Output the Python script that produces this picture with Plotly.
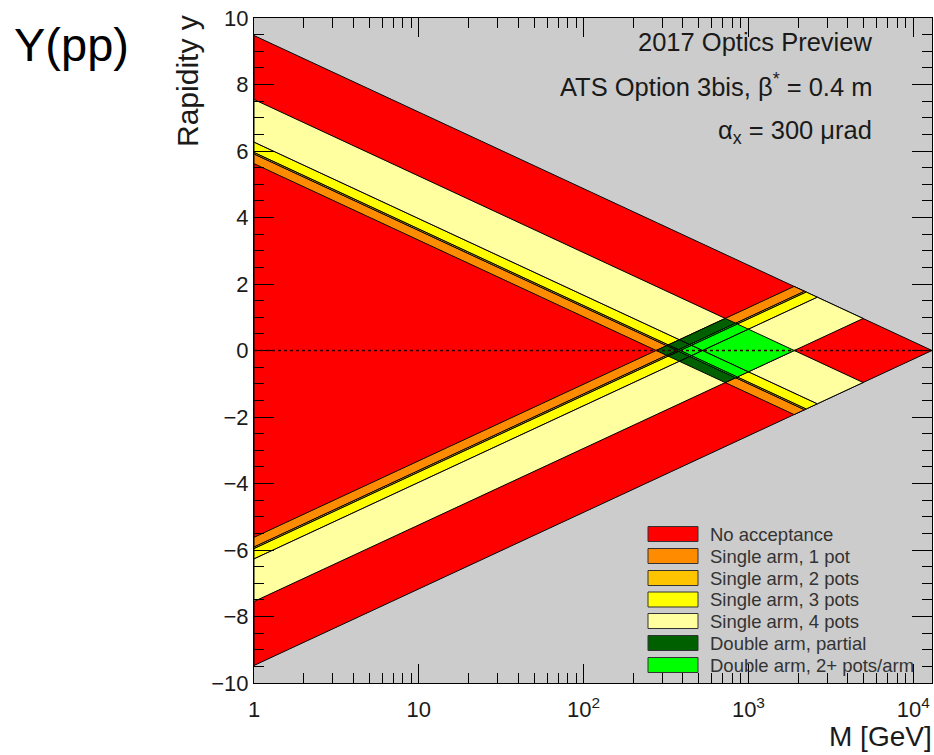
import math
import plotly.graph_objects as go

# Centre-of-mass energy (GeV)
SQRT_S = 13000.0

# Fractional momentum loss xi: edges of the single-arm acceptance bands
# (same for both arms) and the number of pots covering each band
XI_EDGES = [0.0212, 0.0284, 0.0298, 0.0406, 0.146]
POTS = [1, 2, 3, 4]

# Legend categories and their fill colours
CAT_NAMES = [
    "No acceptance",
    "Single arm, 1 pot",
    "Single arm, 2 pots",
    "Single arm, 3 pots",
    "Single arm, 4 pots",
    "Double arm, partial",
    "Double arm, 2+ pots/arm",
]
CAT_COLORS = ["#ff0000", "#ff8c00", "#ffc400", "#ffff00", "#ffffa0", "#006000", "#00ff00"]
BG_GRAY = "#cccccc"

# Axis tick labels
X_TICKVALS = [1, 10, 100, 1000, 10000]
X_TICKTEXT = ["1", "10", "10<sup>2</sup>", "10<sup>3</sup>", "10<sup>4</sup>"]

INFO_LINES = [
    "2017 Optics Preview",
    "ATS Option 3bis, β<sup>*</sup> = 0.4 m",
    "α<sub>x</sub> = 300 μrad",
]

FONT = "Liberation Sans, Arial, sans-serif"
TXT = "#1a1a1a"

# plot-area geometry in pixels
W, H = 934, 755
PL, PT, PW, PH = 254, 18, 678, 665


def fx(px):
    return (px - PL) / PW


def fy(py):
    return (PT + PH - py) / PH


def poly(xs, ys, color):
    return go.Scatter(
        x=xs + xs[:1], y=ys + ys[:1], mode="lines", fill="toself",
        fillcolor=color, line=dict(color="black", width=1),
        hoverinfo="skip", showlegend=False,
    )


fig = go.Figure()

# kinematic limit: |y| <= ln(sqrt(s)/M)
ymax = math.log(SQRT_S)
fig.add_trace(poly([1, SQRT_S, 1], [ymax, 0, -ymax], CAT_COLORS[0]))

bands = list(zip(XI_EDGES[:-1], XI_EDGES[1:], POTS))

# single-arm strips: xi fixed in [lo, hi], other proton anywhere up to xi = 1
for sign in (1, -1):
    for lo, hi, n in bands:
        xs = [1, 1, SQRT_S * math.sqrt(hi), SQRT_S * math.sqrt(lo)]
        ys = [math.log(SQRT_S * lo), math.log(SQRT_S * hi),
              0.5 * math.log(hi), 0.5 * math.log(lo)]
        fig.add_trace(poly(xs, [sign * v for v in ys], CAT_COLORS[n]))

# double-arm regions: both protons inside the acceptance
for lo1, hi1, n1 in bands:
    for lo2, hi2, n2 in bands:
        corners = [(lo1, lo2), (hi1, lo2), (hi1, hi2), (lo1, hi2)]
        xs = [SQRT_S * math.sqrt(a * b) for a, b in corners]
        ys = [0.5 * math.log(a / b) for a, b in corners]
        color = CAT_COLORS[6] if min(n1, n2) >= 2 else CAT_COLORS[5]
        fig.add_trace(poly(xs, ys, color))

shapes = []
# y = 0 reference line
shapes.append(dict(type="line", xref="paper", yref="y", x0=0, x1=1, y0=0, y1=0,
                   line=dict(color="#300000", width=1.5, dash="dot"), layer="above"))

# legend box
row_y = [534, 556, 578, 599.5, 621, 643, 665]
annotations = []
for name, color, ry in zip(CAT_NAMES, CAT_COLORS, row_y):
    shapes.append(dict(type="rect", xref="paper", yref="paper",
                       x0=fx(648), x1=fx(698), y0=fy(ry + 7.5), y1=fy(ry - 7.5),
                       fillcolor=color, line=dict(color="#333333", width=1), layer="above"))
    annotations.append(dict(xref="paper", yref="paper", x=fx(708), y=fy(ry),
                            xanchor="left", yanchor="middle", text=name, showarrow=False,
                            font=dict(family=FONT, size=18.5, color="#333333")))

for line, py in zip(INFO_LINES, [42, 85, 132]):
    annotations.append(dict(xref="paper", yref="paper", x=fx(874), y=fy(py),
                            xanchor="right", yanchor="middle", text=line, showarrow=False,
                            font=dict(family=FONT, size=25.5, color=TXT)))

annotations.append(dict(xref="paper", yref="paper", x=fx(12), y=fy(44),
                        xanchor="left", yanchor="middle", text="Y(pp)", showarrow=False,
                        font=dict(family=FONT, size=47, color="black")))
annotations.append(dict(xref="paper", yref="paper", x=fx(188), y=fy(13),
                        xanchor="center", yanchor="top", text="Rapidity y", textangle=-90,
                        showarrow=False, font=dict(family=FONT, size=30, color=TXT)))
annotations.append(dict(xref="paper", yref="paper", x=fx(934), y=fy(736),
                        xanchor="right", yanchor="middle", text="M [GeV]", showarrow=False,
                        font=dict(family=FONT, size=28, color=TXT)))

minor_x = [m * 10 ** d for d in range(0, 5) for m in range(2, 10) if m * 10 ** d <= SQRT_S]

fig.update_layout(
    width=W, height=H,
    margin=dict(l=PL, r=W - PL - PW, t=PT, b=H - PT - PH),
    paper_bgcolor="white", plot_bgcolor=BG_GRAY,
    showlegend=False,
    shapes=shapes, annotations=annotations,
    xaxis=dict(
        type="log", range=[0, math.log10(SQRT_S)],
        showgrid=False, zeroline=False,
        showline=True, linecolor="black", linewidth=1, mirror="ticks",
        ticks="inside", ticklen=19, tickcolor="black", tickwidth=1,
        tickvals=X_TICKVALS, ticktext=X_TICKTEXT, ticklabelstandoff=7,
        tickfont=dict(family=FONT, size=22, color=TXT),
        minor=dict(ticks="inside", ticklen=10, tickcolor="black", tickwidth=1,
                   tickvals=minor_x, showgrid=False),
    ),
    yaxis=dict(
        range=[-10, 10], showgrid=False, zeroline=False,
        showline=True, linecolor="black", linewidth=1, mirror="ticks",
        ticks="inside", ticklen=20, tickcolor="black", tickwidth=1,
        tick0=0, dtick=2,
        tickfont=dict(family=FONT, size=22, color=TXT),
        minor=dict(ticks="inside", ticklen=10, tickcolor="black", tickwidth=1,
                   dtick=0.5, showgrid=False),
    ),
)

fig.write_html("out.html")
